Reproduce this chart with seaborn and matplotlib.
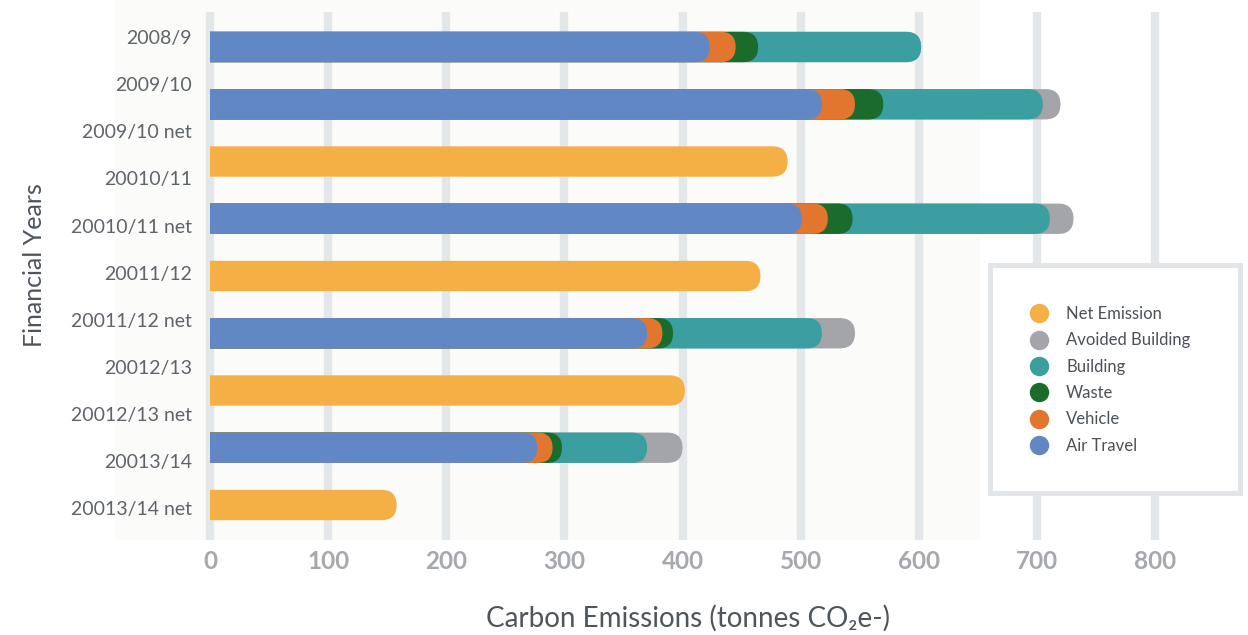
import numpy as np
import pandas as pd
import matplotlib
matplotlib.use("Agg")
import matplotlib.pyplot as plt
import seaborn as sns
from matplotlib.patches import FancyBboxPatch, Rectangle, BoxStyle
from matplotlib.lines import Line2D

# ---------------- data ----------------
bars = ["2008/9", "2009/10", "2009/10 net", "2010/11", "2010/11 net",
        "2011/12", "2011/12 net", "2012/13", "2012/13 net"]
air_travel = [423, 518, 0, 501, 0, 370, 0, 277, 0]
vehicle = [22, 28, 0, 22, 0, 13, 0, 13, 0]
waste = [19, 24, 0, 21, 0, 9, 0, 8, 0]
building = [138, 135, 0, 167, 0, 126, 0, 72, 0]
avoided_building = [0, 15, 0, 20, 0, 28, 0, 30, 0]
net_emission = [0, 0, 489, 0, 466, 0, 402, 0, 158]

tick_labels = ["2008/9", "2009/10", "2009/10 net", "20010/11", "20010/11 net",
               "20011/12", "20011/12 net", "20012/13", "20012/13 net",
               "20013/14", "20013/14 net"]
x_ticks = [0, 100, 200, 300, 400, 500, 600, 700, 800]

colors = {
    "Net Emission": "#f5b045",
    "Avoided Building": "#a3a5a9",
    "Building": "#3b9ea1",
    "Waste": "#1b6b2c",
    "Vehicle": "#e2762e",
    "Air Travel": "#6188c4",
}

# ---------------- build layers ----------------
df = pd.DataFrame({"bar": bars, "Air Travel": air_travel, "Vehicle": vehicle,
                   "Waste": waste, "Building": building,
                   "Avoided Building": avoided_building,
                   "Net Emission": net_emission})
stack_order = ["Air Travel", "Vehicle", "Waste", "Building", "Avoided Building"]
cum = df[stack_order].cumsum(axis=1)
layers = [(name, cum[name]) for name in reversed(stack_order)]
layers.append(("Net Emission", df["Net Emission"]))

# ---------------- figure ----------------
sns.set_style("white")
plt.rcParams["font.family"] = ["Lato", "DejaVu Sans"]

W, H = 1248, 635
fig = plt.figure(figsize=(W / 100, H / 100), dpi=100)
fig.patch.set_facecolor("white")

# faint tinted panel behind the plot
fig.add_artist(Rectangle((115 / W, 1 - 540 / H), 865 / W, 540 / H,
                         transform=fig.transFigure, facecolor="#fbfbf9",
                         edgecolor="none", zorder=-1))

ax_left, ax_right, ax_top, ax_bot = 200, 1240, 12, 540
ax = fig.add_axes([ax_left / W, 1 - ax_bot / H, (ax_right - ax_left) / W,
                   (ax_bot - ax_top) / H])
ax.set_facecolor("none")

layer_patches = []
for name, vals in layers:
    n0 = len(ax.patches)
    sns.barplot(x=list(vals), y=bars, order=bars, orient="h",
                color=colors[name], saturation=1, width=0.53,
                errorbar=None, ax=ax)
    layer_patches.append((name, list(ax.patches[n0:])))

px_per_unit = (1155 - 210) / 800
ax.set_xlim(-(210 - ax_left) / px_per_unit, (ax_right - 210) / px_per_unit)
bar_step = (505 - 47) / 8
ax.set_ylim((ax_bot - 47) / bar_step, (ax_top - 47) / bar_step)

# convert flat bars into rounded bars
fig.canvas.draw()
p0 = ax.transData.transform((0, 0))
p1 = ax.transData.transform((1, 1))
px_x = abs(p1[0] - p0[0])
px_y = abs(p1[1] - p0[1])
m = px_x / px_y
clip = Rectangle((0, -50), 5000, 100, transform=ax.transData)
for i, (name, patches) in enumerate(layer_patches):
    for p in patches:
        x0, y0, w, h = p.get_x(), p.get_y(), p.get_width(), p.get_height()
        p.remove()
        if not np.isfinite(w) or w <= 0:
            continue
        r = h / (2 * m)
        fb = FancyBboxPatch((x0 - r, y0), w + r, h,
                            boxstyle=BoxStyle.Round(pad=0, rounding_size=r),
                            mutation_aspect=m, facecolor=colors[name],
                            edgecolor="none", zorder=2 + i)
        ax.add_patch(fb)
        fb.set_clip_path(clip)

# axes styling
ax.set_xticks(x_ticks)
ax.set_xticklabels([str(t) for t in x_ticks])
ax.xaxis.grid(True, color="#e4e7ea", linewidth=6)
ax.yaxis.grid(False)
ax.set_axisbelow(True)
for s in ax.spines.values():
    s.set_visible(False)
ax.tick_params(axis="x", length=0, pad=7, labelsize=17.5, labelcolor="#a5a8ac")
for t in ax.get_xticklabels():
    t.set_fontweight("bold")
ax.set_yticks(np.linspace(-0.17, 8.05, len(tick_labels)))
ax.set_yticklabels(tick_labels)
ax.tick_params(axis="y", length=0, pad=6, labelsize=14, labelcolor="#5f646a")
ax.set_xlabel("")
ax.set_ylabel("")

fig.text(688 / W, 1 - 618 / H, "Carbon Emissions (tonnes CO\u2082e-)",
         ha="center", va="center", fontsize=20, color="#4f555c")
fig.text(35 / W, 1 - 265 / H, "Financial Years", ha="center", va="center",
         rotation=90, fontsize=18, color="#4f555c")

# legend box
fig.add_artist(Rectangle((990 / W, 1 - 493 / H), 250 / W, 228 / H,
                         transform=fig.transFigure, facecolor="white",
                         edgecolor="#e3e6e9", linewidth=3.6, zorder=5))
legend_order = ["Net Emission", "Avoided Building", "Building", "Waste",
                "Vehicle", "Air Travel"]
handles = [Line2D([], [], marker="o", linestyle="", markersize=14,
                  markerfacecolor=colors[n], markeredgecolor="none")
           for n in legend_order]
leg = fig.legend(handles, legend_order, loc="upper left",
                 bbox_to_anchor=(1022 / W, 1 - 306 / H), frameon=False,
                 fontsize=12, labelcolor="#4c5157", borderpad=0,
                 borderaxespad=0, handletextpad=0.65, labelspacing=0.62)
leg.set_zorder(6)

fig.savefig("out.png", dpi=100)
